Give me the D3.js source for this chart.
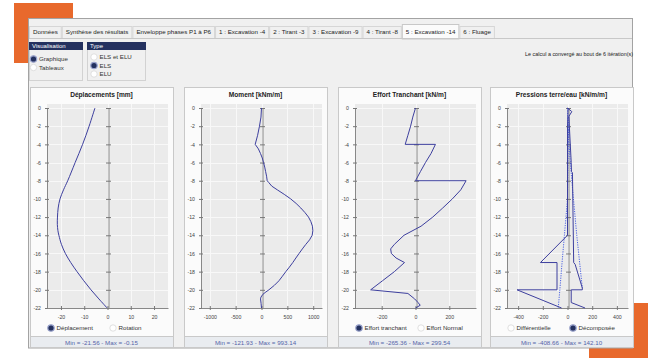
<!DOCTYPE html>
<html>
<head>
<meta charset="utf-8">
<script src="https://cdn.jsdelivr.net/npm/d3@7"></script>
<style>
  body { margin: 0; background: #fff; }
  svg { display: block; font-family: "Liberation Sans", Arial, sans-serif; }
</style>
</head>
<body>
<svg id="chart" width="648" height="358"></svg>
<script>
// ---- data ----
const tabs = ["Données", "Synthèse des résultats", "Enveloppe phases P1 à P6", "1 : Excavation -4",
  "2 : Tirant -3", "3 : Excavation -9", "4 : Tirant -8", "5 : Excavation -14", "6 : Fluage"];
const activeTab = "5 : Excavation -14";
const visuOptions = [["Graphique", true], ["Tableaux", false]];
const typeOptions = [["ELS et ELU", false], ["ELS", true], ["ELU", false]];
const statusMsg = "Le calcul a convergé au bout de 6 itération(s)";

const depthTicks = [0, -2, -4, -6, -8, -10, -12, -14, -16, -18, -20, -22];

// [valeur, profondeur]
const deplacement = [[-5.4, 0], [-7.9, -2], [-10.7, -4], [-13.9, -6], [-17.1, -8], [-18.9, -9],
  [-20.4, -10], [-21.2, -11], [-21.5, -12], [-21.56, -12.8], [-21.3, -13.5], [-20.9, -14],
  [-19.8, -15], [-18.1, -16], [-15.8, -17], [-13.1, -18], [-10.2, -19], [-7.1, -20],
  [-3.7, -21], [-0.15, -22]];

const moment = [[0, 0], [-10, -1], [-39, -2], [-75, -3], [-121.93, -4], [-60, -4.5], [-20, -5],
  [15, -5.5], [39, -6], [62, -6.5], [80, -7], [98, -7.5], [110, -8], [140, -8.2], [200, -8.6],
  [305, -9], [440, -9.5], [565, -10], [670, -10.5], [760, -11], [840, -11.5], [909, -12],
  [955, -12.5], [985, -13], [993.14, -13.5], [980, -14], [930, -14.5], [857, -15], [790, -15.5],
  [727, -16], [665, -16.5], [605, -17], [540, -17.5], [470, -18], [405, -18.5], [338, -19],
  [250, -19.5], [143, -20], [70, -20.3], [26, -20.5], [-10, -20.8], [-19, -21], [-8, -21.5], [0, -22]];

const tranchant = [[0, 0], [-16, -1], [-29, -2], [-45, -3], [-61, -4], [118, -4], [92, -5],
  [59, -6], [29, -7], [0, -8], [299.54, -8], [268, -9], [218, -10], [161, -11], [102, -12],
  [33, -13], [-68, -14], [-125, -15], [-147, -15.5], [-143, -16], [-115, -16.5], [-65, -17],
  [-125, -18], [-195, -19], [-265.36, -20], [-45, -20.4], [-5, -21], [15, -21.4], [28, -21.7], [0, -22]];

const pressionGauche = [[5, 0], [0, -2], [0, -14], [-219, -17], [-85, -17], [-85, -20],
  [-408.66, -20], [-48, -22]];
const pressionDroite = [[0, 0], [35, -0.4], [12, -0.9], [15, -2], [30, -6], [32, -7], [40, -7.1],
  [45, -12], [50, -17], [62, -17.2], [120, -19.8], [120, -20], [30, -20], [30, -21.4], [142.10, -22]];
const pressionDiffA = [[0, 0], [12, -4], [35, -8], [75, -14], [120, -19.8]];
const pressionDiffB = [[8, -1], [0, -10], [-25, -14], [-44, -17], [-62, -20], [-75, -22]];

// ---- layout ----
const svg = d3.select("#chart");
const orange = "#e8692c";
const navy = "#24315f";
const lineCol = "#3d3f9e";

svg.append("rect").attr("x", 14).attr("y", 3).attr("width", 59).attr("height", 60).attr("fill", orange);
svg.append("rect").attr("x", 589).attr("y", 303).attr("width", 59).attr("height", 55).attr("fill", orange);

// window
svg.append("rect").attr("x", 28.5).attr("y", 18.5).attr("width", 604).attr("height", 329.5)
  .attr("fill", "#f0f0f0").attr("stroke", "#a3a3a3");

// tabs
const tabG = svg.append("g");
svg.append("line").attr("x1", 29).attr("x2", 632).attr("y1", 38.5).attr("y2", 38.5).attr("stroke", "#c8c8c8");
let tx = 29;
tabs.forEach(t => {
  const active = t === activeTab;
  const g = tabG.append("g");
  const txt = g.append("text").attr("x", tx + 4).attr("y", 34).attr("font-size", 6.2)
    .attr("fill", "#222").text(t);
  const w = txt.node().getComputedTextLength() + 8;
  if (active) {
    g.insert("rect", "text").attr("x", tx + 0.5).attr("y", 24.5).attr("width", w - 1).attr("height", 14.5)
      .attr("fill", "#fbfbfb").attr("stroke", "#c8c8c8");
  } else {
    g.insert("rect", "text").attr("x", tx + 0.5).attr("y", 26.5).attr("width", w - 1).attr("height", 12)
      .attr("fill", "#f0f0f0").attr("stroke", "#d6d6d6");
  }
  tx += w;
});

svg.append("text").attr("x", 633).attr("y", 56).attr("text-anchor", "end")
  .attr("font-size", 5.4).attr("fill", "#222").text(statusMsg);

function radio(g, cx, cy, label, on) {
  g.append("circle").attr("cx", cx).attr("cy", cy).attr("r", 3.2)
    .attr("fill", on ? navy : "#fff").attr("stroke", on ? "#9aa3cc" : "#d8d8d8").attr("stroke-width", on ? 1.2 : 0.8);
  g.append("text").attr("x", cx + 5.5).attr("y", cy + 2.2).attr("font-size", 6.2).attr("fill", "#333").text(label);
}

function groupBox(x, w, title, opts, cx, y0, dy) {
  svg.append("rect").attr("x", x + 0.5).attr("y", 42.5).attr("width", w).attr("height", 38)
    .attr("fill", "#f0f0f0").attr("stroke", "#d2d2d2");
  svg.append("rect").attr("x", x).attr("y", 42).attr("width", w + 1).attr("height", 8).attr("fill", navy);
  svg.append("text").attr("x", x + 3).attr("y", 48.4).attr("font-size", 6).attr("fill", "#fff").text(title);
  opts.forEach((o, i) => radio(svg, cx, y0 + i * dy, o[0], o[1]));
}
groupBox(29, 53, "Visualisation", visuOptions, 33.5, 59, 8.5);
groupBox(87, 58, "Type", typeOptions, 94, 57, 8.5);

// ---- panels ----
const yScale = d3.scaleLinear().domain([0, -22]).range([108, 308]);
const fmt = v => v.toFixed(2);
const plain = d => String(d);

function drawPanel(p) {
  const g = svg.append("g");
  const PL = p.left, pw = 143;
  g.append("rect").attr("x", PL + 0.5).attr("y", 87.5).attr("width", pw).attr("height", 249)
    .attr("fill", "#fbfbfb").attr("stroke", "#c9c9c9");
  g.append("rect").attr("x", PL + 0.5).attr("y", 336.5).attr("width", pw).attr("height", 11)
    .attr("fill", "#e9ecf0").attr("stroke", "#c9c9c9");

  const x0 = PL + 17, x1 = PL + 138;
  const x = d3.scaleLinear().domain([-p.half, p.half]).range([x0, x1]);

  g.append("text").attr("x", PL + pw / 2).attr("y", 97).attr("text-anchor", "middle")
    .attr("font-size", 6.6).attr("font-weight", "bold").attr("fill", "#222").text(p.title);

  g.append("rect").attr("x", x0).attr("y", 104).attr("width", x1 - x0).attr("height", 204).attr("fill", "#ebebeb");
  // grid
  g.selectAll(".gy").data(depthTicks).join("line")
    .attr("x1", x0).attr("x2", x1).attr("y1", d => Math.round(yScale(d)) + 0.5).attr("y2", d => Math.round(yScale(d)) + 0.5)
    .attr("stroke", "#f8f8f8");
  g.selectAll(".gx").data(p.ticks).join("line")
    .attr("y1", 104).attr("y2", 308).attr("x1", d => Math.round(x(d)) + 0.5).attr("x2", d => Math.round(x(d)) + 0.5)
    .attr("stroke", "#f8f8f8");

  // left axis
  const ya = d3.axisLeft(yScale).tickValues(depthTicks).tickFormat(plain).tickSizeInner(2).tickSizeOuter(0).tickPadding(4);
  const la = g.append("g").attr("transform", `translate(${x0},0)`).call(ya);
  la.selectAll(".tick line").attr("x2", 2).attr("x1", -2).attr("stroke", "#777");
  la.select(".domain").attr("stroke", "#888");
  la.selectAll("text").attr("font-size", 5.2).attr("fill", "#444").attr("font-family", "Liberation Sans, Arial");

  // zero line
  const za = d3.axisLeft(yScale).tickValues(depthTicks).tickSizeOuter(0).tickFormat("");
  const zl = g.append("g").attr("transform", `translate(${Math.round(x(0)) + 0.5},0)`).call(za);
  zl.selectAll(".tick line").attr("x1", -2.5).attr("x2", 2.5).attr("stroke", "#777");
  zl.select(".domain").attr("stroke", "#8a8a8a");

  // bottom axis
  const xa = d3.axisBottom(x).tickValues(p.ticks).tickFormat(plain).tickSizeInner(2).tickSizeOuter(0).tickPadding(5);
  const ba = g.append("g").attr("transform", `translate(0,${yScale(-22)})`).call(xa);
  ba.selectAll(".tick line").attr("y1", -2).attr("y2", 2).attr("stroke", "#777");
  ba.select(".domain").attr("stroke", "#888");
  ba.selectAll("text").attr("font-size", 5.2).attr("fill", "#444").attr("font-family", "Liberation Sans, Arial");

  const line = d3.line().x(d => x(d[0])).y(d => yScale(d[1]));
  p.series.forEach(s => {
    g.append("path").datum(s.data)
      .attr("d", line.curve(s.curve || d3.curveLinear))
      .attr("fill", "none").attr("stroke", s.color || lineCol)
      .attr("stroke-width", s.dash ? 0.9 : 1)
      .attr("stroke-dasharray", s.dash || null);
  });

  (p.radios || []).forEach((r, i) => radio(g, PL + 21 + i * 62, 328, r[0], r[1]));

  const all = p.series.flatMap(s => s.data.map(d => d[0]));
  g.append("text").attr("x", PL + pw / 2).attr("y", 344.5).attr("text-anchor", "middle")
    .attr("font-size", 6.2).attr("fill", "#5564a8")
    .text(`Min = ${fmt(d3.min(all))}  -  Max = ${fmt(d3.max(all))}`);
}

drawPanel({ left: 30, title: "Déplacements [mm]", half: 26, ticks: [-20, -10, 0, 10, 20],
  series: [{ data: deplacement, curve: d3.curveCatmullRom }],
  radios: [["Déplacement", true], ["Rotation", false]] });
drawPanel({ left: 184, title: "Moment [kNm/m]", half: 1170, ticks: [-1000, -500, 0, 500, 1000],
  series: [{ data: moment }] });
drawPanel({ left: 338, title: "Effort Tranchant [kN/m]", half: 358, ticks: [-200, 0, 200],
  series: [{ data: tranchant }],
  radios: [["Effort tranchant", true], ["Effort Normal", false]] });
drawPanel({ left: 490, title: "Pressions terre/eau [kN/m/m]", half: 490, ticks: [-400, -200, 0, 200, 400],
  series: [
    { data: pressionDiffA, dash: "1.2,1.2", color: "#3a52e0" },
    { data: pressionDiffB, dash: "1.2,1.2", color: "#3a52e0" },
    { data: pressionGauche },
    { data: pressionDroite }
  ],
  radios: [["Différentielle", false], ["Décomposée", true]] });
</script>
</body>
</html>
